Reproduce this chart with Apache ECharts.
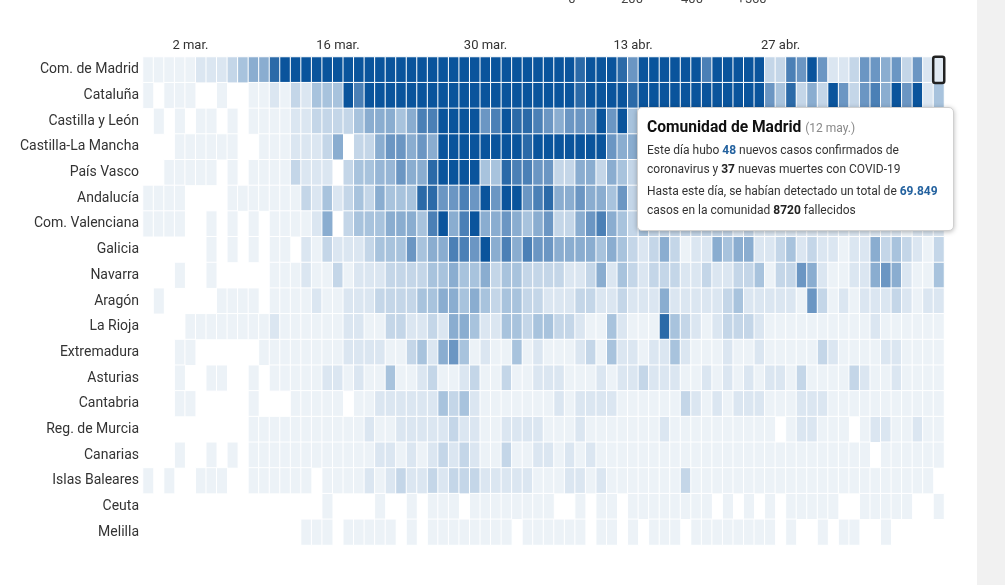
<!DOCTYPE html>
<html>
<head>
<meta charset="utf-8">
<script src="https://cdn.jsdelivr.net/npm/echarts@6/dist/echarts.min.js"></script>
<style>
html,body{margin:0;padding:0;background:#fff;overflow:hidden;}
#chart{width:1005px;height:585px;}
</style>
</head>
<body>
<div id="chart"></div>
<script>
const _ = null;

const regions = ['Com. de Madrid','Cataluña','Castilla y León','Castilla-La Mancha','País Vasco','Andalucía','Com. Valenciana','Galicia','Navarra','Aragón','La Rioja','Extremadura','Asturias','Cantabria','Reg. de Murcia','Canarias','Islas Baleares','Ceuta','Melilla'];

const days = ['27 feb.','28 feb.','29 feb.',
'1 mar.','2 mar.','3 mar.','4 mar.','5 mar.','6 mar.','7 mar.','8 mar.','9 mar.','10 mar.','11 mar.','12 mar.','13 mar.','14 mar.','15 mar.','16 mar.','17 mar.','18 mar.','19 mar.','20 mar.','21 mar.','22 mar.','23 mar.','24 mar.','25 mar.','26 mar.','27 mar.','28 mar.','29 mar.','30 mar.','31 mar.',
'1 abr.','2 abr.','3 abr.','4 abr.','5 abr.','6 abr.','7 abr.','8 abr.','9 abr.','10 abr.','11 abr.','12 abr.','13 abr.','14 abr.','15 abr.','16 abr.','17 abr.','18 abr.','19 abr.','20 abr.','21 abr.','22 abr.','23 abr.','24 abr.','25 abr.','26 abr.','27 abr.','28 abr.','29 abr.','30 abr.',
'1 may.','2 may.','3 may.','4 may.','5 may.','6 may.','7 may.','8 may.','9 may.','10 may.','11 may.','12 may.'];

// labelled columns on the top axis
const tickDays = ['2 mar.','16 mar.','30 mar.','13 abr.','27 abr.'];
// colour legend ticks (top, partly cut)
const legendTicks = ['0','200','400','+560'];

// new confirmed cases per day (estimated from the colour of each cell)
const madrid = [8,8,8,8,8,70,70,70,140,210,280,280,490,600,600,
600,600,600,600,600,600,600,600,600,600,600,600,600,600,600,600,600,600,600,600,600,600,600,
600,600,600,490,600,600,600,490,350,600,600,600,600,600,600,420,600,600,600,600,600,
140,140,420,350,600,350,70,70,140,350,350,280,350,140,350,70,48];
const cataluna = [8,_,8,8,8,_,_,8,_,_,8,8,70,8,140,70,210,210,210,600,420,
600,600,600,600,600,600,600,600,600,600,600,600,600,600,600,600,600,
600,600,600,490,600,600,600,600,490,600,600,600,600,600,600,600,600,600,600,600,600,
350,210,490,140,280,140,600,350,140,350,420,280,600,350,600,70,210];
const cyl = [_,8,_,8,_,8,8,_,8,_,8,8,8,8,70,70,140,140,140,140,
210,280,280,280,210,280,420,420,600,600,600,600,350,420,600,490,490,420,
350,280,350,350,350,600,350,600,210,
280,280,210,280,210,210,280,210,210,140,210,140,140,210,140,140,140,70,140,140,70,140,140,70,70,140,70,70,70];
const clm = [_,_,_,8,8,8,8,8,8,_,_,8,8,8,70,70,70,140,280,_,
140,140,280,350,350,280,350,280,600,600,600,600,600,600,600,600,490,600,
600,600,600,600,600,600,350,280,280,
350,350,280,280,280,210,280,210,210,210,140,210,140,140,140,140,140,70,140,70,70,140,70,70,70,70,70,70,70];
const paisVasco = [_,_,8,8,8,8,8,_,8,_,8,8,8,8,140,70,70,70,_,140,
210,210,250,250,350,280,280,490,600,600,600,600,210,210,490,420,420,350,
350,140,140,280,280,140,280,210,140,
210,210,140,140,210,140,140,140,140,70,140,70,70,140,70,70,70,70,70,70,70,70,70,70,8,70,8,70,70];
const andalucia = [8,8,8,8,_,_,_,_,8,8,8,8,8,8,8,140,70,210,70,140,
210,140,280,210,210,210,490,490,350,350,420,350,600,350,600,600,350,420,
490,280,280,350,280,280,210,350,140,
210,210,140,210,140,140,210,140,140,140,140,70,140,70,70,140,70,70,70,70,70,70,70,70,70,70,8,70,70];
const valenciana = [8,8,8,8,_,_,8,_,8,_,8,_,8,8,8,8,70,280,_,140,
210,210,210,280,280,280,210,420,600,280,420,600,280,280,350,280,210,280,
350,140,140,280,350,420,280,210,140,
210,140,140,140,140,140,140,140,140,70,140,70,70,70,70,70,70,70,70,70,70,70,70,70,70,8,70,70,70];
const galicia = [_,_,_,_,_,_,8,_,8,_,8,_,8,8,_,70,8,140,70,70,
70,140,210,210,210,350,210,280,280,420,420,350,600,280,420,280,420,350,
350,280,280,280,280,210,280,210,140,70,140,280,140,8,70,70,280,210,280,280,
70,70,140,210,70,140,70,70,8,70,70,280,140,210,140,70,8,140];
const navarra = [_,_,_,8,_,_,8,_,_,_,_,_,8,8,8,70,8,8,140,8,
70,70,70,140,140,140,140,210,210,280,210,210,280,140,210,210,140,140,
140,140,70,70,140,280,70,210,140,70,140,140,140,70,70,140,70,70,140,140,
210,8,140,140,350,280,70,8,8,70,70,280,350,280,70,8,8,210];
const aragon = [_,8,_,_,_,_,_,8,8,8,8,_,8,8,8,8,70,8,8,70,
70,70,140,140,140,140,210,210,280,280,210,280,210,140,210,210,140,140,
70,70,70,140,140,70,70,140,70,70,70,280,70,70,70,70,70,140,210,70,
70,70,70,70,8,350,140,8,70,8,70,70,70,140,70,8,70,70];
const rioja = [_,_,_,_,8,8,8,8,8,8,8,8,70,8,8,8,8,8,8,70,
70,8,8,140,140,70,70,140,70,280,280,210,70,70,210,210,140,210,
210,140,140,70,8,8,210,70,8,8,8,490,210,140,70,8,70,140,140,140,
70,8,8,8,8,8,8,8,8,8,8,70,8,8,8,8,8,8];
const extremadura = [_,_,_,8,8,_,_,_,_,_,_,8,8,8,8,8,8,8,8,70,
70,70,70,8,8,140,210,70,280,350,210,8,70,8,8,210,8,70,
8,8,8,70,140,8,210,70,70,8,70,70,210,70,8,8,8,70,8,8,
70,8,8,8,8,8,140,70,8,8,8,8,70,70,8,8,8,8];
const asturias = [_,_,_,8,_,_,8,8,_,_,8,_,8,8,8,8,8,70,70,8,
70,8,8,210,8,8,70,140,8,8,70,140,8,8,140,8,8,70,
70,70,8,8,8,70,8,70,70,140,70,70,70,8,8,70,8,70,8,70,
8,70,70,8,140,8,8,8,8,140,70,8,8,70,8,8,8,8];
const cantabria = [_,_,_,8,8,_,_,_,_,_,8,_,_,_,8,8,8,8,8,_,
8,8,70,70,70,70,70,70,210,140,210,70,8,8,8,8,8,8,
8,70,8,70,70,70,70,8,8,8,8,8,8,140,70,8,70,8,70,70,
70,8,8,8,70,70,70,8,8,8,8,8,8,8,8,8,8,8];
const murcia = [_,_,_,_,_,_,_,_,_,_,8,8,8,8,8,8,8,8,8,8,
8,70,8,8,70,70,70,70,70,140,70,70,8,8,70,70,70,70,
8,8,8,70,8,8,8,8,8,8,8,70,8,8,8,8,8,8,8,8,
8,8,_,8,70,70,8,8,8,_,8,70,70,8,8,70,8,8];
const canarias = [_,_,_,8,_,_,8,_,8,_,8,8,8,8,8,8,8,8,8,8,
8,8,70,70,8,70,8,70,140,70,140,70,8,8,140,8,8,70,
70,8,70,8,70,8,8,8,8,8,8,8,8,8,8,8,8,8,8,8,
8,8,8,8,8,8,8,8,8,8,8,_,8,8,8,8,8,8];
const baleares = [8,_,8,_,_,8,8,8,_,_,8,8,8,8,8,8,_,8,8,8,
8,70,8,70,140,70,70,140,70,140,140,140,70,70,70,70,70,8,
8,8,70,70,8,70,8,8,8,8,8,8,8,140,8,8,8,8,8,8,
8,8,8,8,8,8,8,8,8,8,8,8,8,8,8,8,8,_];
const ceuta = [_,_,_,_,_,_,_,_,_,_,_,_,_,_,_,_,_,8,_,_,
_,_,8,_,_,8,_,8,8,8,_,8,8,8,8,8,8,8,
8,_,_,8,_,8,8,_,8,8,8,8,8,8,8,8,_,8,_,8,
_,8,_,8,8,8,8,8,_,_,8,8,8,8,8,_,_,8];
const melilla = [_,_,_,_,_,_,_,_,_,_,_,_,_,_,_,8,8,8,_,8,
8,8,8,8,_,8,_,8,8,8,8,8,8,8,8,_,8,8,
8,8,8,8,_,8,8,_,8,_,8,8,8,_,8,8,8,8,8,8,
8,8,_,8,_,_,8,_,8,8,_,_,8,_,_,_,_,_];

const rows = [madrid,cataluna,cyl,clm,paisVasco,andalucia,valenciana,galicia,navarra,aragon,rioja,extremadura,asturias,cantabria,murcia,canarias,baleares,ceuta,melilla];

// tooltip content (Madrid, last day)
const tipRegion = 'Comunidad de Madrid';
const tipDeaths = 37;
const tipTotalCases = '69.849';
const tipTotalDeaths = 8720;

const scaleColors = ['#eef3f8','#dbe6f1','#c4d6e8','#a8c3dd','#8aadd0','#6b96c3','#4b80b6','#2b6aa8','#0a549c'];

const data = [];
let hiItem = null;
rows.forEach((vals, r) => {
  vals.forEach((v, c) => {
    if (v === null) return;
    if (r === 0 && c === days.length - 1) {
      hiItem = {value:[c, r, v], itemStyle:{borderColor:'#222', borderWidth:2.5, borderRadius:2}};
      return;
    }
    data.push([c, r, v]);
  });
});
data.push(hiItem);
const hiIdx = data.length - 1;

const chart = echarts.init(document.getElementById('chart'));
const FONT = 'Roboto, "Noto Sans", sans-serif';

chart.setOption({
  animation: false,
  backgroundColor: '#fff',
  textStyle: {fontFamily: FONT},
  grid: {left: 143, right: 61, top: 57, bottom: 40},
  xAxis: {
    type: 'category', data: days, position: 'top',
    axisLine: {show: false}, axisTick: {show: false}, splitLine: {show: false},
    axisLabel: {
      color: '#333', fontSize: 13, margin: 5, fontFamily: FONT,
      interval: (i, v) => tickDays.indexOf(v) >= 0
    }
  },
  yAxis: {
    type: 'category', data: regions, inverse: true,
    axisLine: {show: false}, axisTick: {show: false}, splitLine: {show: false},
    axisLabel: {color: '#333', fontSize: 14, margin: 4, fontFamily: FONT}
  },
  visualMap: {
    show: false, type: 'continuous', min: 0, max: 560, dimension: 2,
    inRange: {color: scaleColors}
  },
  tooltip: {
    trigger: 'item', triggerOn: 'none', alwaysShowContent: true,
    transitionDuration: 0, showDelay: 0,
    position: [637, 107],
    backgroundColor: '#fff', borderColor: '#d0d0d0', borderWidth: 1,
    padding: [9, 10, 10, 9],
    extraCssText: 'box-shadow:0 1px 5px rgba(0,0,0,0.28);border-radius:5px;width:296px;',
    formatter: (p) => {
      const d = days[p.value[0]];
      return '<div style="font-family:Roboto,sans-serif;color:#333;white-space:nowrap">' +
        '<div style="font-size:15.6px;line-height:20px;font-weight:bold;color:#111">' + tipRegion +
        ' <span style="font-weight:normal;font-size:12px;color:#888">(' + d + ')</span></div>' +
        '<div style="font-size:12px;line-height:19px;margin-top:3px">Este día hubo <b style="color:#24629f">' + p.value[2] +
        '</b> nuevos casos confirmados de<br>coronavirus y <b style="color:#222">' + tipDeaths + '</b> nuevas muertes con COVID-19</div>' +
        '<div style="font-size:12px;line-height:19px;margin-top:3px">Hasta este día, se habían detectado un total de <b style="color:#24629f">' + tipTotalCases +
        '</b><br>casos en la comunidad <b style="color:#222">' + tipTotalDeaths + '</b> fallecidos</div></div>';
    }
  },
  graphic: [
    {type: 'rect', left: 977, top: 0, shape: {width: 28, height: 585}, style: {fill: '#f1f1f1'}, silent: true},
    ...legendTicks.map((t, i) => ({
      type: 'text', x: 572 + i * 60, y: 0,
      style: {text: t, fill: '#444', font: '13px ' + FONT, textAlign: 'center', textVerticalAlign: 'middle'}
    }))
  ],
  series: [{
    type: 'heatmap',
    data: data,
    progressive: 0,
    itemStyle: {borderColor: '#fff', borderWidth: 1},
    emphasis: {disabled: true}
  }]
});

chart.dispatchAction({type: 'showTip', seriesIndex: 0, dataIndex: hiIdx});
</script>
</body>
</html>
